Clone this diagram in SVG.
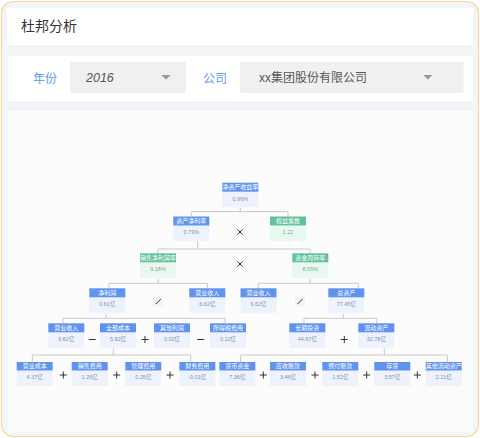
<svg xmlns="http://www.w3.org/2000/svg" width="480" height="438" viewBox="0 0 480 438">
<defs>
<style>
.cjk{font-family:"Liberation Sans","Noto Sans CJK SC",sans-serif}
.hb{fill:#5f93ee}
.hg{fill:#62c19a}
.vb{fill:#eef2fd}
.vg{fill:#e9f8f1}
.lab{font-family:"Noto Sans CJK SC",sans-serif;font-size:6px;fill:#ffffff;text-anchor:middle}
.val{font-family:"Liberation Sans","Noto Sans CJK SC",sans-serif;font-size:5.5px;fill:#7f90b3;text-anchor:middle}
.valg{font-family:"Liberation Sans","Noto Sans CJK SC",sans-serif;font-size:5.5px;fill:#7fa895;text-anchor:middle}
.con{fill:none;stroke:#c8c8c8;stroke-width:1}
.opbg{fill:#f2f3f5}
.op{fill:none;stroke:#333;stroke-width:1}
</style>
</defs>
<rect x="1.5" y="1.5" width="477" height="435" rx="12" fill="#f4f5f8" stroke="#f3d89f" stroke-width="1.2"/>
<rect x="7" y="8" width="466" height="37" fill="#ffffff"/>
<text x="21" y="31" class="cjk" font-size="14" fill="#333333">杜邦分析</text>
<rect x="8" y="56" width="465" height="45" fill="#ffffff"/>
<text x="33" y="82.5" class="cjk" font-size="12" fill="#5b9be8">年份</text>
<rect x="70" y="62" width="116" height="31" rx="2" fill="#f0f0f0"/>
<text x="86" y="82" font-family="Liberation Sans,sans-serif" font-style="italic" font-size="12.5" fill="#555555">2016</text>
<path d="M161.3 75 L170.7 75 L166 79.5 Z" fill="#999999"/>
<text x="203" y="82.5" class="cjk" font-size="12" fill="#5b9be8">公司</text>
<rect x="240" y="62" width="223.5" height="31" rx="2" fill="#f0f0f0"/>
<text x="259" y="82" class="cjk" font-size="12" fill="#555555">xx集团股份有限公司</text>
<path d="M423.3 75 L432.3 75 L427.8 79.5 Z" fill="#999999"/>
<rect x="8" y="111" width="465" height="321" fill="#fcfcfd"/>

<g id="connectors">
<path class="con" d="M240.3 208 V211.7 M191.3 216.5 V211.7 H288 V216.5"/>
<path class="con" d="M197.7 241 V249 M158 253.3 V249 H310 V253.3"/>
<path class="con" d="M158.3 278.5 V283.3 M109 288.3 V283.3 H207.3 V288.3"/>
<path class="con" d="M310 278.5 V283.3 M258.3 288.3 V283.3 H358.3 V288.3"/>
<path class="con" d="M106 313.5 V318.3 M63 323.3 V318.3 H225 V323.3"/>
<path class="con" d="M343.3 313.5 V318.3 M304 323.3 V318.3 H376.7 V323.3"/>
<path class="con" d="M113.3 348.5 V355 M32.3 362.3 V355 H190.7 V362.3"/>
<path class="con" d="M384.3 348.5 V355 M240.7 362.3 V355 H447.3 V362.3"/>
</g>

<g id="operators">
<rect class="opbg" x="235" y="227" width="10" height="10"/><path class="op" d="M237.5 229.5 L242.5 234.5 M242.5 229.5 L237.5 234.5"/>
<rect class="opbg" x="235" y="259" width="10" height="10"/><path class="op" d="M237.5 261.5 L242.5 266.5 M242.5 261.5 L237.5 266.5"/>
<rect class="opbg" x="153" y="296.5" width="10" height="10"/><path class="op" d="M155.8 304 L160.8 299"/>
<rect class="opbg" x="295" y="296.5" width="10" height="10"/><path class="op" d="M297.5 304 L302.5 299"/>
<path class="op" d="M88.8 339.5 H95.8"/>
<path class="op" d="M141.5 339.5 H148.5 M145 336 V343"/>
<path class="op" d="M197.2 339.5 H204.2"/>
<path class="op" d="M340.8 339.5 H347.8 M344.3 336 V343"/>
<path class="op" d="M59.8 375 H66.8 M63.3 371.5 V378.5"/>
<path class="op" d="M113.2 375 H120.2 M116.7 371.5 V378.5"/>
<path class="op" d="M166.5 375 H173.5 M170 371.5 V378.5"/>
<path class="op" d="M259.8 375 H266.8 M263.3 371.5 V378.5"/>
<path class="op" d="M311.5 375 H318.5 M315 371.5 V378.5"/>
<path class="op" d="M363.2 375 H370.2 M366.7 371.5 V378.5"/>
<path class="op" d="M413.8 375 H420.8 M417.3 371.5 V378.5"/>
</g>

<g id="n-roe"><rect class="vb" x="222.3" y="191.7" width="36" height="15.6"/><rect class="hb" x="222.3" y="182.7" width="36" height="9"/><text class="lab" x="240.3" y="189.4">净资产收益率</text><text class="val" x="240.3" y="200.6">0.96%</text></g>
<g id="n-zcjll"><rect class="vb" x="173.3" y="225.5" width="36" height="15.6"/><rect class="hb" x="173.3" y="216.5" width="36" height="9"/><text class="lab" x="191.3" y="223.2">资产净利率</text><text class="val" x="191.3" y="234.4">0.79%</text></g>
<g id="n-qycs"><rect class="vg" x="270" y="225.5" width="36" height="15.6"/><rect class="hg" x="270" y="216.5" width="36" height="9"/><text class="lab" x="288" y="223.2">权益乘数</text><text class="valg" x="288" y="234.4">1.22</text></g>
<g id="n-xsjlr"><rect class="vg" x="140" y="262.3" width="36" height="15.6"/><rect class="hg" x="140" y="253.3" width="36" height="9"/><text class="lab" x="158" y="260">销售净利润率</text><text class="valg" x="158" y="271.2">9.18%</text></g>
<g id="n-zjzzl"><rect class="vg" x="292.3" y="262.3" width="36" height="15.6"/><rect class="hg" x="292.3" y="253.3" width="36" height="9"/><text class="lab" x="310.3" y="260">资金周转率</text><text class="valg" x="310.3" y="271.2">8.55%</text></g>

<g id="n-jlr"><rect class="vb" x="89.3" y="297.3" width="36" height="15.6"/><rect class="hb" x="89.3" y="288.3" width="36" height="9"/><text class="lab" x="107.3" y="295">净利润</text><text class="val" x="107.3" y="306.2">0.61亿</text></g>
<g id="n-yysr1"><rect class="vb" x="189.3" y="297.3" width="36" height="15.6"/><rect class="hb" x="189.3" y="288.3" width="36" height="9"/><text class="lab" x="207.3" y="295">营业收入</text><text class="val" x="207.3" y="306.2">6.62亿</text></g>
<g id="n-yysr2"><rect class="vb" x="240.5" y="297.3" width="36" height="15.6"/><rect class="hb" x="240.5" y="288.3" width="36" height="9"/><text class="lab" x="258.5" y="295">营业收入</text><text class="val" x="258.5" y="306.2">6.62亿</text></g>
<g id="n-zzc"><rect class="vb" x="328.3" y="297.3" width="36" height="15.6"/><rect class="hb" x="328.3" y="288.3" width="36" height="9"/><text class="lab" x="346.3" y="295">总资产</text><text class="val" x="346.3" y="306.2">77.45亿</text></g>

<g id="n-yysr3"><rect class="vb" x="48.3" y="332.3" width="36" height="15.6"/><rect class="hb" x="48.3" y="323.3" width="36" height="9"/><text class="lab" x="66.3" y="330">营业收入</text><text class="val" x="66.3" y="341.2">6.62亿</text></g>
<g id="n-qbcb"><rect class="vb" x="100" y="332.3" width="36" height="15.6"/><rect class="hb" x="100" y="323.3" width="36" height="9"/><text class="lab" x="118" y="330">全部成本</text><text class="val" x="118" y="341.2">5.92亿</text></g>
<g id="n-qtlr"><rect class="vb" x="154" y="332.3" width="36" height="15.6"/><rect class="hb" x="154" y="323.3" width="36" height="9"/><text class="lab" x="172" y="330">其他利润</text><text class="val" x="172" y="341.2">0.02亿</text></g>
<g id="n-sdsfy"><rect class="vb" x="210" y="332.3" width="36" height="15.6"/><rect class="hb" x="210" y="323.3" width="36" height="9"/><text class="lab" x="228" y="330">所得税费用</text><text class="val" x="228" y="341.2">0.12亿</text></g>
<g id="n-cqtz"><rect class="vb" x="289.3" y="332.3" width="36" height="15.6"/><rect class="hb" x="289.3" y="323.3" width="36" height="9"/><text class="lab" x="307.3" y="330">长期投资</text><text class="val" x="307.3" y="341.2">44.67亿</text></g>
<g id="n-ldzc"><rect class="vb" x="358.3" y="332.3" width="36" height="15.6"/><rect class="hb" x="358.3" y="323.3" width="36" height="9"/><text class="lab" x="376.3" y="330">流动资产</text><text class="val" x="376.3" y="341.2">32.78亿</text></g>

<g id="n-yycb"><rect class="vb" x="16.7" y="370.5" width="36" height="15.6"/><rect class="hb" x="16.7" y="362" width="36" height="8.5"/><text class="lab" x="34.7" y="368.4">营业成本</text><text class="val" x="34.7" y="378.9">4.37亿</text></g>
<g id="n-xsfy"><rect class="vb" x="71.7" y="370.5" width="36" height="15.6"/><rect class="hb" x="71.7" y="362" width="36" height="8.5"/><text class="lab" x="89.7" y="368.4">销售费用</text><text class="val" x="89.7" y="378.9">1.26亿</text></g>
<g id="n-glfy"><rect class="vb" x="125.3" y="370.5" width="36" height="15.6"/><rect class="hb" x="125.3" y="362" width="36" height="8.5"/><text class="lab" x="143.3" y="368.4">管理费用</text><text class="val" x="143.3" y="378.9">0.25亿</text></g>
<g id="n-cwfy"><rect class="vb" x="179.3" y="370.5" width="36" height="15.6"/><rect class="hb" x="179.3" y="362" width="36" height="8.5"/><text class="lab" x="197.3" y="368.4">财务费用</text><text class="val" x="197.3" y="378.9">-0.01亿</text></g>
<g id="n-hbzj"><rect class="vb" x="219.3" y="370.5" width="36" height="15.6"/><rect class="hb" x="219.3" y="362" width="36" height="8.5"/><text class="lab" x="237.3" y="368.4">货币资金</text><text class="val" x="237.3" y="378.9">7.36亿</text></g>
<g id="n-yszk"><rect class="vb" x="270" y="370.5" width="36" height="15.6"/><rect class="hb" x="270" y="362" width="36" height="8.5"/><text class="lab" x="288" y="368.4">应收账款</text><text class="val" x="288" y="378.9">3.46亿</text></g>
<g id="n-yfzk"><rect class="vb" x="322.3" y="370.5" width="36" height="15.6"/><rect class="hb" x="322.3" y="362" width="36" height="8.5"/><text class="lab" x="340.3" y="368.4">预付账款</text><text class="val" x="340.3" y="378.9">1.52亿</text></g>
<g id="n-ch"><rect class="vb" x="374.3" y="370.5" width="36" height="15.6"/><rect class="hb" x="374.3" y="362" width="36" height="8.5"/><text class="lab" x="392.3" y="368.4">存货</text><text class="val" x="392.3" y="378.9">3.57亿</text></g>
<g id="n-qtldzc"><rect class="vb" x="425.7" y="370.5" width="36" height="15.6"/><rect class="hb" x="425.7" y="362" width="36" height="8.5"/><text class="lab" x="443.7" y="368.4">其他流动资产</text><text class="val" x="443.7" y="378.9">2.21亿</text></g>
</svg>
